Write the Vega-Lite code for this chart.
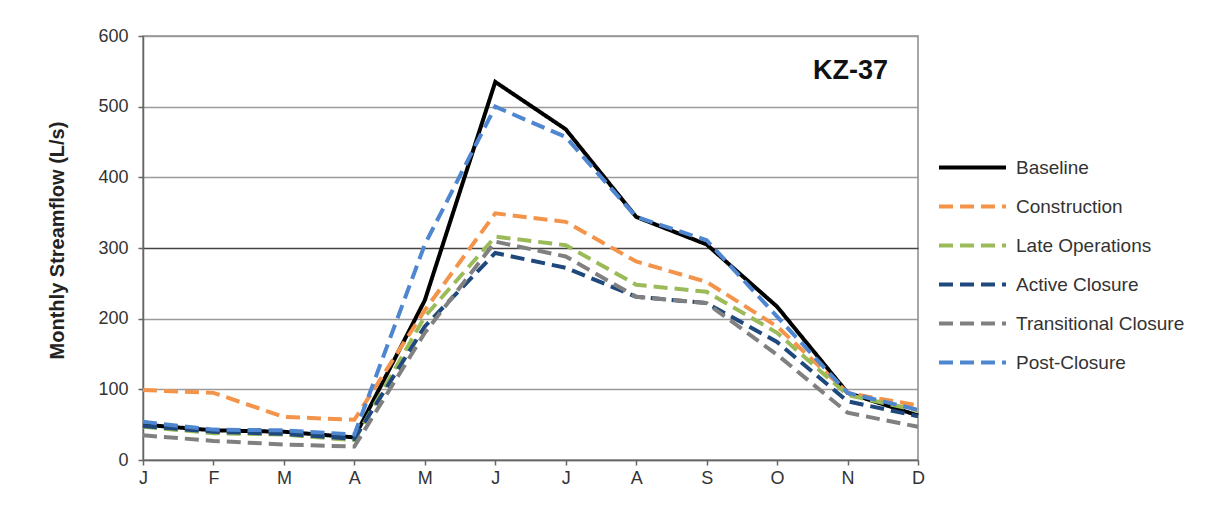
{
  "$schema": "https://vega.github.io/schema/vega-lite/v6.json",
  "width": 775,
  "height": 424,
  "autosize": {"type": "none"},
  "padding": {"left": 143, "top": 36, "right": 310, "bottom": 60},
  "background": "white",
  "config": {
    "font": "Liberation Sans",
    "view": {"stroke": "#8a8a8a", "strokeWidth": 1.5}
  },
  "title": {
    "text": "KZ-37",
    "fontSize": 27,
    "fontWeight": "bold",
    "font": "Liberation Sans",
    "color": "#111",
    "anchor": "end",
    "frame": "group",
    "orient": "top",
    "offset": 0,
    "baseline": "alphabetic",
    "dx": -30,
    "dy": 79
  },
  "data": {
    "values": [
      {"series": "Baseline", "month": 1, "flow": 50},
      {"series": "Baseline", "month": 2, "flow": 42},
      {"series": "Baseline", "month": 3, "flow": 40},
      {"series": "Baseline", "month": 4, "flow": 32},
      {"series": "Baseline", "month": 5, "flow": 226},
      {"series": "Baseline", "month": 6, "flow": 535},
      {"series": "Baseline", "month": 7, "flow": 468},
      {"series": "Baseline", "month": 8, "flow": 344},
      {"series": "Baseline", "month": 9, "flow": 305},
      {"series": "Baseline", "month": 10, "flow": 217},
      {"series": "Baseline", "month": 11, "flow": 95},
      {"series": "Baseline", "month": 12, "flow": 63},
      {"series": "Construction", "month": 1, "flow": 99},
      {"series": "Construction", "month": 2, "flow": 95},
      {"series": "Construction", "month": 3, "flow": 61},
      {"series": "Construction", "month": 4, "flow": 57},
      {"series": "Construction", "month": 5, "flow": 212},
      {"series": "Construction", "month": 6, "flow": 349},
      {"series": "Construction", "month": 7, "flow": 337},
      {"series": "Construction", "month": 8, "flow": 281},
      {"series": "Construction", "month": 9, "flow": 252},
      {"series": "Construction", "month": 10, "flow": 189},
      {"series": "Construction", "month": 11, "flow": 95},
      {"series": "Construction", "month": 12, "flow": 77},
      {"series": "Late Operations", "month": 1, "flow": 47},
      {"series": "Late Operations", "month": 2, "flow": 38},
      {"series": "Late Operations", "month": 3, "flow": 36},
      {"series": "Late Operations", "month": 4, "flow": 28},
      {"series": "Late Operations", "month": 5, "flow": 203},
      {"series": "Late Operations", "month": 6, "flow": 316},
      {"series": "Late Operations", "month": 7, "flow": 304},
      {"series": "Late Operations", "month": 8, "flow": 248},
      {"series": "Late Operations", "month": 9, "flow": 238},
      {"series": "Late Operations", "month": 10, "flow": 180},
      {"series": "Late Operations", "month": 11, "flow": 92},
      {"series": "Late Operations", "month": 12, "flow": 70},
      {"series": "Active Closure", "month": 1, "flow": 48},
      {"series": "Active Closure", "month": 2, "flow": 40},
      {"series": "Active Closure", "month": 3, "flow": 37},
      {"series": "Active Closure", "month": 4, "flow": 30},
      {"series": "Active Closure", "month": 5, "flow": 189},
      {"series": "Active Closure", "month": 6, "flow": 293},
      {"series": "Active Closure", "month": 7, "flow": 272},
      {"series": "Active Closure", "month": 8, "flow": 231},
      {"series": "Active Closure", "month": 9, "flow": 222},
      {"series": "Active Closure", "month": 10, "flow": 167},
      {"series": "Active Closure", "month": 11, "flow": 83},
      {"series": "Active Closure", "month": 12, "flow": 62},
      {"series": "Transitional Closure", "month": 1, "flow": 35},
      {"series": "Transitional Closure", "month": 2, "flow": 27},
      {"series": "Transitional Closure", "month": 3, "flow": 22},
      {"series": "Transitional Closure", "month": 4, "flow": 19},
      {"series": "Transitional Closure", "month": 5, "flow": 180},
      {"series": "Transitional Closure", "month": 6, "flow": 309},
      {"series": "Transitional Closure", "month": 7, "flow": 288},
      {"series": "Transitional Closure", "month": 8, "flow": 231},
      {"series": "Transitional Closure", "month": 9, "flow": 222},
      {"series": "Transitional Closure", "month": 10, "flow": 149},
      {"series": "Transitional Closure", "month": 11, "flow": 67},
      {"series": "Transitional Closure", "month": 12, "flow": 47},
      {"series": "Post-Closure", "month": 1, "flow": 54},
      {"series": "Post-Closure", "month": 2, "flow": 43},
      {"series": "Post-Closure", "month": 3, "flow": 42},
      {"series": "Post-Closure", "month": 4, "flow": 36},
      {"series": "Post-Closure", "month": 5, "flow": 305},
      {"series": "Post-Closure", "month": 6, "flow": 500},
      {"series": "Post-Closure", "month": 7, "flow": 457},
      {"series": "Post-Closure", "month": 8, "flow": 344},
      {"series": "Post-Closure", "month": 9, "flow": 311},
      {"series": "Post-Closure", "month": 10, "flow": 203},
      {"series": "Post-Closure", "month": 11, "flow": 95},
      {"series": "Post-Closure", "month": 12, "flow": 71}
    ]
  },
  "mark": {"type": "line", "strokeWidth": 4},
  "encoding": {
    "x": {
      "field": "month",
      "type": "quantitative",
      "scale": {"domain": [1, 12], "nice": false, "zero": false},
      "axis": {
        "title": null,
        "values": [1, 2, 3, 4, 5, 6, 7, 8, 9, 10, 11, 12],
        "labelExpr": "['J','F','M','A','M','J','J','A','S','O','N','D'][datum.value - 1]",
        "grid": false,
        "domainColor": "#666",
        "domainWidth": 1.5,
        "tickColor": "#666",
        "tickWidth": 1.5,
        "tickSize": 5,
        "labelFontSize": 18,
        "labelColor": "#333",
        "labelPadding": 4,
        "labelFlush": false
      }
    },
    "y": {
      "field": "flow",
      "type": "quantitative",
      "scale": {"domain": [0, 600], "nice": false},
      "axis": {
        "title": "Monthly Streamflow (L/s)",
        "titleFontSize": 20,
        "titleFontWeight": "bold",
        "titleColor": "#222",
        "titleX": -86,
        "titleY": 204,
        "titleAlign": "center",
        "titleBaseline": "middle",
        "titleAngle": -90,
        "values": [0, 100, 200, 300, 400, 500, 600],
        "gridColor": {"condition": {"test": "datum.value === 300", "value": "#444"}, "value": "#9a9a9a"},
        "gridWidth": 1.5,
        "domainColor": "#666",
        "domainWidth": 1.5,
        "tickColor": "#666",
        "tickWidth": 1.5,
        "tickSize": 5,
        "labelFontSize": 18,
        "labelColor": "#333",
        "labelPadding": 10
      }
    },
    "color": {
      "field": "series",
      "type": "nominal",
      "scale": {
        "domain": ["Baseline", "Construction", "Late Operations", "Active Closure", "Transitional Closure", "Post-Closure"],
        "range": ["#000000", "#F4944A", "#9BBB59", "#1F497D", "#808080", "#4F86D0"]
      },
      "legend": {
        "title": null,
        "orient": "none",
        "legendX": 794,
        "legendY": 112,
        "symbolType": "stroke",
        "symbolSize": 4489,
        "symbolStrokeWidth": 4,
        "labelFontSize": 19,
        "labelColor": "#333",
        "labelOffset": 8,
        "labelLimit": 400,
        "clipHeight": 39,
        "rowPadding": 0
      }
    },
    "strokeDash": {
      "field": "series",
      "type": "nominal",
      "scale": {
        "domain": ["Baseline", "Construction", "Late Operations", "Active Closure", "Transitional Closure", "Post-Closure"],
        "range": [[1, 0], [14, 7], [14, 7], [14, 7], [14, 7], [14, 7]]
      },
      "legend": null
    },
    "order": {"field": "month"}
  }
}
